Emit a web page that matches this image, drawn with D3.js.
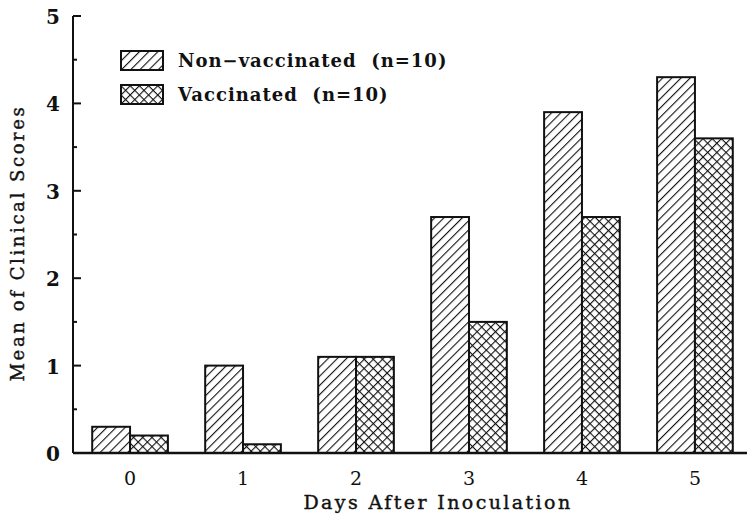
<!DOCTYPE html>
<html>
<head>
<meta charset="utf-8">
<script src="https://cdn.jsdelivr.net/npm/d3@7"></script>
<style>
  body { margin: 0; background: #fff; }
  svg text { font-family: "DejaVu Serif", serif; fill: #111; }
</style>
</head>
<body>
<div id="chart"></div>
<script>
const days = ["0", "1", "2", "3", "4", "5"];
const seriesNames = ["Non\u2212vaccinated  (n=10)", "Vaccinated  (n=10)"];
const nonVaccinated = [0.3, 1.0, 1.1, 2.7, 3.9, 4.3];
const vaccinated = [0.2, 0.1, 1.1, 1.5, 2.7, 3.6];
const yTicks = [0, 1, 2, 3, 4, 5];
const yMinorTicks = [0.5, 1.5, 2.5, 3.5, 4.5];

const width = 747, height = 516;
const svg = d3.select("#chart").append("svg")
    .attr("width", width).attr("height", height);

// hatch patterns
const defs = svg.append("defs");
const diag = defs.append("pattern")
    .attr("id", "diag").attr("patternUnits", "userSpaceOnUse")
    .attr("width", 6.5).attr("height", 6.5)
    .attr("patternTransform", "rotate(45)");
diag.append("rect").attr("width", 6.5).attr("height", 6.5).attr("fill", "#fff");
diag.append("line").attr("x1", 0).attr("y1", 0).attr("x2", 0).attr("y2", 6.5)
    .attr("stroke", "#111").attr("stroke-width", 2.2);

const cross = defs.append("pattern")
    .attr("id", "cross").attr("patternUnits", "userSpaceOnUse")
    .attr("width", 6.5).attr("height", 6.5)
    .attr("patternTransform", "rotate(45)");
cross.append("rect").attr("width", 6.5).attr("height", 6.5).attr("fill", "#fff");
cross.append("line").attr("x1", 0).attr("y1", 0).attr("x2", 0).attr("y2", 6.5)
    .attr("stroke", "#111").attr("stroke-width", 2.2);
cross.append("line").attr("x1", 0).attr("y1", 0).attr("x2", 6.5).attr("y2", 0)
    .attr("stroke", "#111").attr("stroke-width", 2.2);

const fills = ["url(#diag)", "url(#cross)"];

const x = d3.scaleBand()
    .domain(days)
    .range([73, 752])
    .paddingInner(0.33)
    .paddingOuter(0.17);

const x1 = d3.scaleBand()
    .domain([0, 1])
    .range([0, x.bandwidth()]);

const y = d3.scaleLinear()
    .domain([0, 5])
    .range([453, 16]);

const data = days.map((d, i) => ({ day: d, values: [nonVaccinated[i], vaccinated[i]] }));

// bars
const groups = svg.selectAll(".group")
    .data(data)
    .enter().append("g")
    .attr("class", "group")
    .attr("transform", d => `translate(${x(d.day)},0)`);

groups.selectAll("rect")
    .data(d => d.values.map((v, k) => ({ k, v })))
    .enter().append("rect")
    .attr("x", d => x1(d.k))
    .attr("y", d => y(d.v))
    .attr("width", x1.bandwidth())
    .attr("height", d => y(0) - y(d.v))
    .attr("fill", d => fills[d.k])
    .attr("stroke", "#111")
    .attr("stroke-width", 2);

// y axis
const yAxis = svg.append("g").attr("transform", "translate(73,0)");
yAxis.append("line")
    .attr("x1", 0).attr("x2", 0)
    .attr("y1", y(5)).attr("y2", y(0))
    .attr("stroke", "#111").attr("stroke-width", 2);
yAxis.selectAll(".major")
    .data(yTicks.filter(t => t > 0))
    .enter().append("line")
    .attr("x1", 0).attr("x2", 8)
    .attr("y1", d => y(d)).attr("y2", d => y(d))
    .attr("stroke", "#111").attr("stroke-width", 2);
yAxis.selectAll(".minor")
    .data(yMinorTicks)
    .enter().append("line")
    .attr("x1", 0).attr("x2", 4)
    .attr("y1", d => y(d)).attr("y2", d => y(d))
    .attr("stroke", "#111").attr("stroke-width", 2);
yAxis.selectAll(".lbl")
    .data(yTicks)
    .enter().append("text")
    .attr("x", -20)
    .attr("y", d => y(d) + 8)
    .attr("text-anchor", "middle")
    .attr("font-size", 20)
    .attr("font-weight", "bold")
    .text(d => d);

// x axis
svg.append("line")
    .attr("x1", 73).attr("x2", 747)
    .attr("y1", y(0)).attr("y2", y(0))
    .attr("stroke", "#111").attr("stroke-width", 2.5);

svg.selectAll(".xlbl")
    .data(days)
    .enter().append("text")
    .attr("x", d => x(d) + x.bandwidth() / 2)
    .attr("y", 485)
    .attr("text-anchor", "middle")
    .attr("font-size", 19)
    .text(d => d);

svg.append("text")
    .attr("x", 438).attr("y", 509)
    .attr("text-anchor", "middle")
    .attr("font-size", 19)
    .attr("letter-spacing", 2.4)
    .attr("stroke", "#111").attr("stroke-width", 0.4)
    .text("Days After Inoculation");

svg.append("text")
    .attr("transform", "translate(24,243) rotate(-90)")
    .attr("text-anchor", "middle")
    .attr("font-size", 18)
    .attr("letter-spacing", 2.6)
    .attr("stroke", "#111").attr("stroke-width", 0.4)
    .text("Mean of Clinical Scores");

// legend
const legend = svg.selectAll(".legend")
    .data(seriesNames)
    .enter().append("g")
    .attr("class", "legend")
    .attr("transform", (d, i) => `translate(121,${51 + i * 34})`);

legend.append("rect")
    .attr("width", 42).attr("height", 19)
    .attr("fill", (d, i) => fills[i])
    .attr("stroke", "#111").attr("stroke-width", 2);

legend.append("text")
    .attr("x", 57).attr("y", 16)
    .attr("font-size", 18)
    .attr("font-weight", "bold")
    .attr("letter-spacing", 1)
    .attr("xml:space", "preserve")
    .style("white-space", "pre")
    .text(d => d);
</script>
</body>
</html>
